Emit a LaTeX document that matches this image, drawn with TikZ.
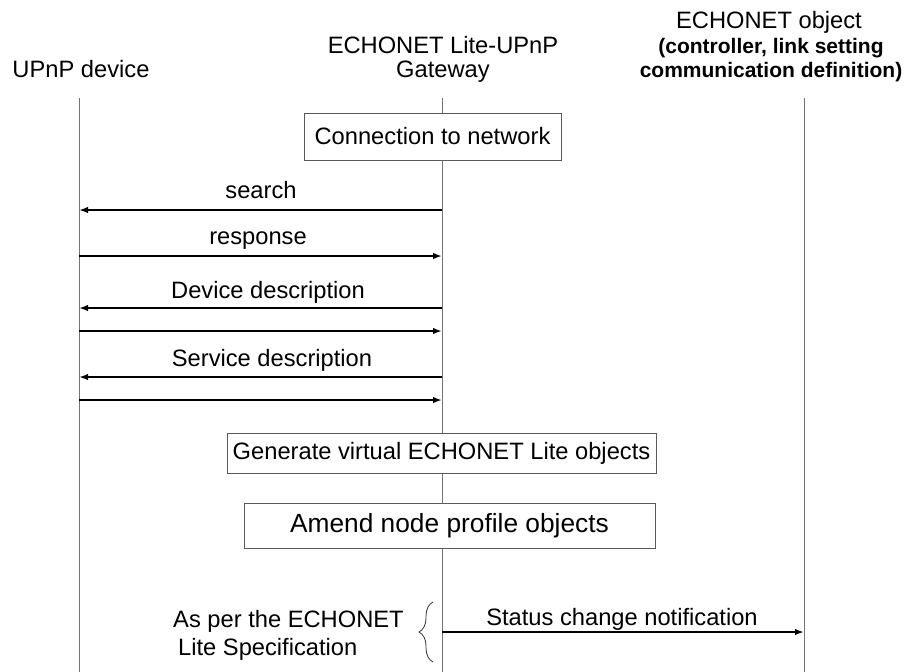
\documentclass[tikz,border=0pt]{standalone}
\usepackage{fontspec}
\setmainfont{Liberation Sans}
\usetikzlibrary{arrows.meta,decorations.pathreplacing}
\begin{document}
\begin{tikzpicture}[x=1pt,y=-1pt,
  txt/.style={font=\fontsize{23.7}{25}\selectfont, inner sep=0pt},
  hdr/.style={font=\fontsize{23.7}{25}\selectfont, inner sep=0pt, anchor=base},
  bhdr/.style={font=\fontsize{21}{25}\bfseries\selectfont, inner sep=0pt, anchor=base},
  life/.style={draw=black!55, line width=1pt},
  msg/.style={draw=black, line width=1.8pt, -{Latex[length=9pt,width=6.5pt]}},
  procbox/.style={draw=black!65, line width=0.9pt, fill=white, inner sep=0pt, font=\fontsize{23.7}{25}\selectfont},
]
\useasboundingbox (0,0) rectangle (905,672);
% headers
\node[hdr] (hu) at (81,77) {UPnP device};
\node[hdr] (hg1) at (443,53) {ECHONET Lite-UPnP};
\node[hdr] (hg2) at (443,77) {Gateway};
\node[hdr] (he1) at (769,28) {ECHONET object};
\node[bhdr] (he2) at (771,53) {(controller, link setting};
\node[bhdr] (he3) at (771,77) {communication definition)};
% lifelines
\coordinate (ut) at (79,98); \coordinate (ub) at (79,672);
\coordinate (gt) at (442,98); \coordinate (gb) at (442,672);
\coordinate (et) at (804,98); \coordinate (eb) at (804,672);
\draw[life] (ut) -- (ub);
\draw[life] (gt) -- (gb);
\draw[life] (et) -- (eb);
% boxes
\node[procbox, minimum width=257pt, minimum height=47pt] (b1) at (432.5,136.5) {Connection to network};
\node[procbox, minimum width=429pt, minimum height=40pt] (b2) at (441.5,453) {Generate virtual ECHONET Lite objects};
\node[procbox, minimum width=411pt, minimum height=45pt, font=\fontsize{26.3}{28}\selectfont] (b3) at (449.5,525.5) {Amend node profile objects};
% message endpoints
\coordinate (g1) at (442,210); \coordinate (u1) at (79,210);
\coordinate (u2) at (79,256); \coordinate (g2) at (442,256);
\coordinate (g3) at (442,308); \coordinate (u3) at (79,308);
\coordinate (u4) at (79,331); \coordinate (g4) at (442,331);
\coordinate (g5) at (442,377); \coordinate (u5) at (79,377);
\coordinate (u6) at (79,400); \coordinate (g6) at (442,400);
\coordinate (g7) at (442,632); \coordinate (e7) at (804,632);
\draw[msg] (g1) -- (u1);
\draw[msg] (u2) -- (g2);
\draw[msg] (g3) -- (u3);
\draw[msg] (u4) -- (g4);
\draw[msg] (g5) -- (u5);
\draw[msg] (u6) -- (g6);
\draw[msg] (g7) -- (e7);
% labels
\node[txt, anchor=base] (l1) at (261,198) {search};
\node[txt, anchor=base] (l2) at (258,244) {response};
\node[txt, anchor=base] (l3) at (268,298) {Device description};
\node[txt, anchor=base] (l4) at (272,366) {Service description};
\node[txt, anchor=base] (l7) at (622,625) {Status change notification};
% brace note
\coordinate (br1) at (433,662); \coordinate (br2) at (433,602);
\draw[black!80, line width=0.8pt, decorate, decoration={brace, amplitude=14pt}] (br1) -- (br2);
\node[txt, anchor=base west] (n1) at (173,627) {As per the ECHONET};
\node[txt, anchor=base west] (n2) at (178,655) {Lite Specification};
\end{tikzpicture}
\end{document}
